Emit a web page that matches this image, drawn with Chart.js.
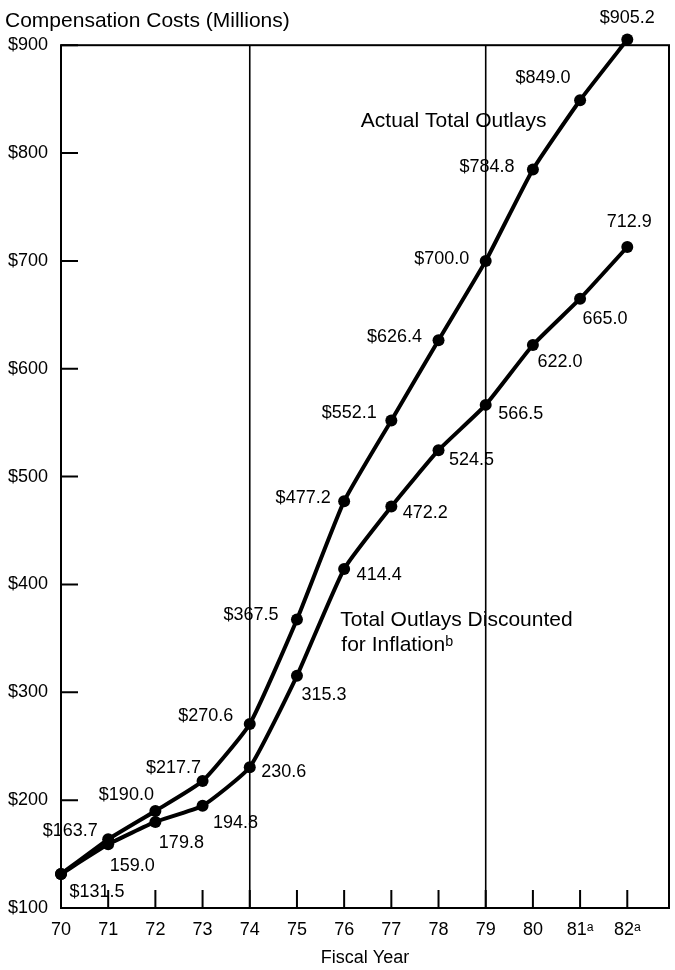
<!DOCTYPE html>
<html>
<head>
<meta charset="utf-8">
<script src="https://cdn.jsdelivr.net/npm/chart.js@4/dist/chart.umd.min.js"></script>
<style>
  html, body { margin: 0; padding: 0; background: #fff; overflow: hidden; }
  #wrap { width: 675px; height: 970px; position: relative; }
  #chart { display: block; }
</style>
</head>
<body>
<div id="wrap"><canvas id="chart"></canvas></div>
<script>
// --- Datos ---
const years = [70, 71, 72, 73, 74, 75, 76, 77, 78, 79, 80, 81, 82];
const yearLabels = ['70', '71', '72', '73', '74', '75', '76', '77', '78', '79', '80', '81ᵃ', '82ᵃ'];
const actualOutlays = [131.5, 163.7, 190.0, 217.7, 270.6, 367.5, 477.2, 552.1, 626.4, 700.0, 784.8, 849.0, 905.2];
const discountedOutlays = [131.5, 159.0, 179.8, 194.8, 230.6, 315.3, 414.4, 472.2, 524.5, 566.5, 622.0, 665.0, 712.9];
const costTicks = [100, 200, 300, 400, 500, 600, 700, 800, 900];
const dividerYears = [74, 79];

// Posición de las etiquetas de valor (desplazamiento en px respecto al punto)
const actualLabelOffsets = [[36, 18], [-38, -8], [-29, -16], [-29, -13], [-44, -8], [-46, -4], [-41, -3],
  [-42, -7], [-44, -3], [-44, -2], [-46, -2], [-37, -22], [0, -22]];
const discountedLabelOffsets = [null, [24, 22], [26, 21], [33, 17], [34, 5], [27, 19], [35, 6],
  [34, 6], [33, 10], [35, 9], [27, 17], [25, 20], [2, -25]];

// Notas de serie (en coordenadas de datos)
const seriesNotes = [
  { text: 'Actual Total Outlays', x: 78.32, y: 829.5, align: 'center' },
  { text: 'Total Outlays Discounted', x: 75.92, y: 367, align: 'left' },
  { text: 'for Inflationᵇ', x: 75.94, y: 344, align: 'left' }
];

const FONT = "'Liberation Sans', Arial, Helvetica, sans-serif";
Chart.defaults.font.family = FONT;
Chart.defaults.color = '#000';

// --- Plugin: marco, marcas hacia dentro, líneas verticales y etiquetas ---
const decor = {
  id: 'decor',
  beforeDatasetsDraw(chart) {
    const { ctx, chartArea: a, scales: { x, y } } = chart;
    ctx.save();
    ctx.strokeStyle = '#000';
    ctx.lineWidth = 2;
    ctx.strokeRect(a.left, a.top, a.right - a.left, a.bottom - a.top);
    // marcas cortas
    ctx.beginPath();
    years.forEach(v => {
      const px = x.getPixelForValue(v);
      ctx.moveTo(px, a.bottom);
      ctx.lineTo(px, a.bottom - 18);
    });
    costTicks.forEach(v => {
      const py = y.getPixelForValue(v);
      ctx.moveTo(a.left, py);
      ctx.lineTo(a.left + 17, py);
    });
    ctx.stroke();
    // divisiones 74 y 79
    ctx.lineWidth = 1.6;
    ctx.beginPath();
    dividerYears.forEach(v => {
      const px = x.getPixelForValue(v);
      ctx.moveTo(px, a.top);
      ctx.lineTo(px, a.bottom);
    });
    ctx.stroke();
    ctx.restore();
  },
  afterDatasetsDraw(chart) {
    const { ctx, scales: { x, y } } = chart;
    ctx.save();
    ctx.fillStyle = '#000';
    ctx.font = '18px ' + FONT;
    ctx.textBaseline = 'middle';
    ctx.textAlign = 'center';
    const drawLabels = (values, offsets, prefix) => {
      values.forEach((v, i) => {
        const off = offsets[i];
        if (!off) return;
        const px = x.getPixelForValue(years[i]);
        const py = y.getPixelForValue(v);
        ctx.fillText(prefix + v.toFixed(1), px + off[0], py + off[1]);
      });
    };
    drawLabels(actualOutlays, actualLabelOffsets, '$');
    drawLabels(discountedOutlays, discountedLabelOffsets, '');
    ctx.font = '21px ' + FONT;
    seriesNotes.forEach(n => {
      ctx.textAlign = n.align;
      ctx.fillText(n.text, x.getPixelForValue(n.x), y.getPixelForValue(n.y));
    });
    ctx.restore();
  }
};

const lineStyle = {
  borderColor: '#000',
  backgroundColor: '#000',
  borderWidth: 4,
  pointRadius: 6,
  pointHoverRadius: 6,
  pointBackgroundColor: '#000',
  pointBorderColor: '#000',
  pointBorderWidth: 0,
  tension: 0.15,
  clip: false
};

new Chart(document.getElementById('chart'), {
  type: 'line',
  data: {
    datasets: [
      { label: 'Actual Total Outlays', data: years.map((yr, i) => ({ x: yr, y: actualOutlays[i] })), ...lineStyle },
      { label: 'Total Outlays Discounted for Inflation', data: years.map((yr, i) => ({ x: yr, y: discountedOutlays[i] })), ...lineStyle }
    ]
  },
  options: {
    responsive: true,
    maintainAspectRatio: false,
    animation: false,
    events: [],
    layout: { padding: { top: 0, right: 2, left: 5, bottom: 0 } },
    plugins: {
      legend: { display: false },
      tooltip: { enabled: false },
      title: {
        display: true,
        text: 'Compensation Costs (Millions)',
        align: 'start',
        color: '#000',
        font: { family: FONT, size: 21, weight: 'normal' },
        padding: { top: 9, bottom: 11 }
      }
    },
    scales: {
      x: {
        type: 'linear',
        min: 70,
        max: 82.884,
        afterBuildTicks: s => { s.ticks = years.map(v => ({ value: v })); },
        afterFit: s => { s.height = 62; },
        grid: { display: false },
        border: { display: false },
        ticks: {
          autoSkip: false,
          maxRotation: 0,
          padding: 3,
          color: '#000',
          font: { size: 18 },
          callback: v => yearLabels[years.indexOf(v)]
        },
        title: {
          display: true,
          text: 'Fiscal Year',
          color: '#000',
          font: { size: 18 },
          padding: { top: 0, bottom: 1 }
        }
      },
      y: {
        min: 100,
        max: 900,
        afterBuildTicks: s => { s.ticks = costTicks.map(v => ({ value: v })); },
        afterFit: s => { s.width = 56; },
        grid: { display: false },
        border: { display: false },
        ticks: {
          padding: 5,
          color: '#000',
          font: { size: 18 },
          callback: v => '$' + v
        }
      }
    }
  },
  plugins: [decor]
});
</script>
</body>
</html>
